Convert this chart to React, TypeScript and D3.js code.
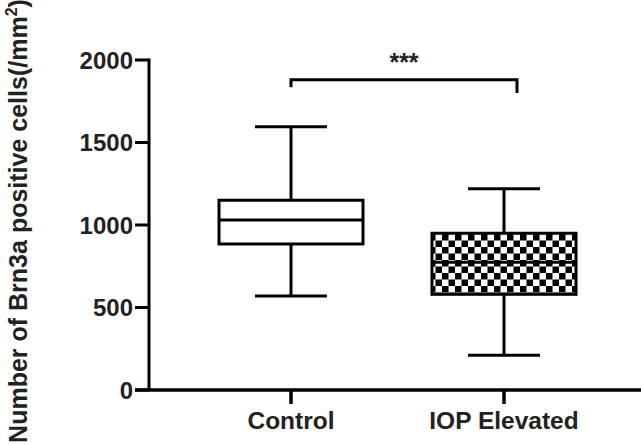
import React, { useEffect, useRef } from 'react';
import * as d3 from 'd3';

const categories = ['Control', 'IOP Elevated'];
const whiskerMin = [570, 210];
const q1 = [885, 580];
const median = [1030, 775];
const q3 = [1150, 950];
const whiskerMax = [1595, 1220];
const yTicks = [0, 500, 1000, 1500, 2000];
const patterned = [false, true];

const App: React.FC = () => {
  const svgRef = useRef<SVGSVGElement>(null);

  useEffect(() => {
    if (!svgRef.current) return;
    const svg = d3.select(svgRef.current);
    svg.selectAll('*').remove();

    const width = 641;
    const height = 445;
    const font = 'Liberation Sans, Arial, sans-serif';
    const textColor = '#222';

    const y = d3.scaleLinear().domain([0, 2000]).range([390, 60]);
    const x = d3.scalePoint<string>().domain(categories).range([291, 504]);
    const boxW = 144;
    const capW = 72;

    // checkerboard fill
    const defs = svg.append('defs');
    const cell = 6.5;
    const pat = defs.append('pattern')
      .attr('id', 'checker')
      .attr('patternUnits', 'userSpaceOnUse')
      .attr('width', cell * 2)
      .attr('height', cell * 2)
      .attr('x', 0)
      .attr('y', 0);
    pat.append('rect').attr('width', cell * 2).attr('height', cell * 2).attr('fill', '#fff');
    pat.append('rect').attr('x', 0).attr('y', 0).attr('width', cell).attr('height', cell).attr('fill', '#000');
    pat.append('rect').attr('x', cell).attr('y', cell).attr('width', cell).attr('height', cell).attr('fill', '#000');

    // axes
    const axisX = 149;
    svg.append('line')
      .attr('x1', axisX).attr('x2', axisX)
      .attr('y1', y(2000) - 1.5).attr('y2', y(0))
      .attr('stroke', '#000').attr('stroke-width', 3);
    svg.append('line')
      .attr('x1', 135).attr('x2', width)
      .attr('y1', y(0)).attr('y2', y(0))
      .attr('stroke', '#000').attr('stroke-width', 3.5);

    yTicks.forEach((t) => {
      svg.append('line')
        .attr('x1', 135).attr('x2', axisX)
        .attr('y1', y(t)).attr('y2', y(t))
        .attr('stroke', '#000').attr('stroke-width', 3);
      svg.append('text')
        .attr('x', 133).attr('y', y(t))
        .attr('dy', '0.36em')
        .attr('text-anchor', 'end')
        .attr('font-family', font)
        .attr('font-weight', 'bold')
        .attr('font-size', 24)
        .attr('fill', textColor)
        .text(t);
    });

    categories.forEach((c) => {
      svg.append('line')
        .attr('x1', x(c)!).attr('x2', x(c)!)
        .attr('y1', y(0)).attr('y2', y(0) + 14)
        .attr('stroke', '#000').attr('stroke-width', 3.5);
      svg.append('text')
        .attr('x', x(c)!).attr('y', 429)
        .attr('text-anchor', 'middle')
        .attr('font-family', font)
        .attr('font-weight', 'bold')
        .attr('font-size', 24.5)
        .attr('fill', textColor)
        .text(c);
    });

    // boxes
    categories.forEach((c, i) => {
      const cx = x(c)!;
      const g = svg.append('g');
      const stroke = { color: '#000', w: 3 };
      g.append('line')
        .attr('x1', cx).attr('x2', cx)
        .attr('y1', y(whiskerMax[i])).attr('y2', y(q3[i]))
        .attr('stroke', stroke.color).attr('stroke-width', stroke.w);
      g.append('line')
        .attr('x1', cx).attr('x2', cx)
        .attr('y1', y(q1[i])).attr('y2', y(whiskerMin[i]))
        .attr('stroke', stroke.color).attr('stroke-width', stroke.w);
      [whiskerMax[i], whiskerMin[i]].forEach((v) => {
        g.append('line')
          .attr('x1', cx - capW / 2).attr('x2', cx + capW / 2)
          .attr('y1', y(v)).attr('y2', y(v))
          .attr('stroke', stroke.color).attr('stroke-width', stroke.w);
      });
      g.append('rect')
        .attr('x', cx - boxW / 2)
        .attr('y', y(q3[i]))
        .attr('width', boxW)
        .attr('height', y(q1[i]) - y(q3[i]))
        .attr('fill', patterned[i] ? 'url(#checker)' : '#fff')
        .attr('stroke', stroke.color)
        .attr('stroke-width', stroke.w);
      g.append('line')
        .attr('x1', cx - boxW / 2).attr('x2', cx + boxW / 2)
        .attr('y1', y(median[i])).attr('y2', y(median[i]))
        .attr('stroke', stroke.color).attr('stroke-width', stroke.w);
    });

    // significance bracket
    const bx1 = x(categories[0])!;
    const bx2 = x(categories[1])! + 13;
    svg.append('path')
      .attr('d', `M${bx1},${y(1835)}V${y(1880)}H${bx2}V${y(1800)}`)
      .attr('fill', 'none')
      .attr('stroke', '#000')
      .attr('stroke-width', 3);
    svg.append('text')
      .attr('x', (bx1 + bx2) / 2).attr('y', 71)
      .attr('text-anchor', 'middle')
      .attr('font-family', font)
      .attr('font-weight', 'bold')
      .attr('font-size', 25)
      .attr('fill', textColor)
      .text('***');

    // y label
    const yl = svg.append('text')
      .attr('transform', `translate(27,${221}) rotate(-90)`)
      .attr('text-anchor', 'middle')
      .attr('font-family', font)
      .attr('font-weight', 'bold')
      .attr('font-size', 25)
      .attr('fill', textColor);
    yl.append('tspan').text('Number of Brn3a positive cells(/mm');
    yl.append('tspan').attr('font-size', 16).attr('dy', -10).text('2');
    yl.append('tspan').attr('dy', 10).text(')');

    svg.attr('width', width).attr('height', height);
  }, []);

  return (
    <svg
      ref={svgRef}
      width={641}
      height={445}
      style={{ position: 'absolute', left: 0, top: 0, background: '#fff' }}
    />
  );
};

export default App;
